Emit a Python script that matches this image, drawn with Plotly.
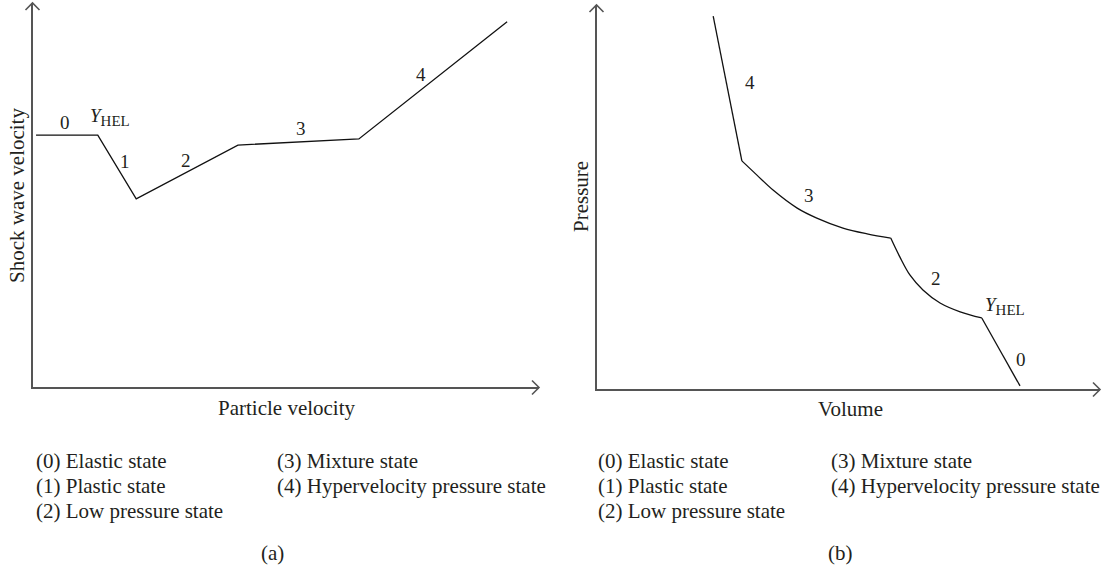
import plotly.graph_objects as go

# ---------------- data (arbitrary units) ----------------
# (a) shock wave velocity vs particle velocity (piecewise linear)
a_particle_velocity = [0.06, 1.28, 2.04, 4.05, 6.44, 9.37]
a_shock_velocity = [6.56, 6.56, 4.90, 6.30, 6.46, 9.51]
a_label_text = ["0", "1", "2", "3", "4"]
a_label_x = [0.63, 1.82, 3.02, 5.30, 7.67]
a_label_y = [6.88, 5.86, 5.89, 6.74, 8.15]
a_hel_x, a_hel_y = 1.52, 7.02

# (b) pressure vs volume, per state segment
b_vol_4 = [2.31, 2.88]
b_pres_4 = [9.71, 5.94]
b_vol_3 = [2.88, 3.18, 3.50, 3.98, 4.37, 4.89, 5.37, 5.84]
b_pres_3 = [5.94, 5.57, 5.18, 4.71, 4.45, 4.19, 4.04, 3.93]
b_vol_2 = [5.84, 6.02, 6.22, 6.48, 6.82, 7.22, 7.65]
b_pres_2 = [3.93, 3.44, 2.97, 2.58, 2.24, 2.01, 1.85]
b_vol_0 = [7.65, 8.41]
b_pres_0 = [1.85, 0.08]
b_label_text = ["4", "3", "2", "0"]
b_label_x = [3.04, 4.21, 6.74, 8.43]
b_label_y = [7.97, 5.05, 2.89, 0.76]
b_hel_x, b_hel_y = 8.11, 2.16

legend_col1 = ["(0) Elastic state", "(1) Plastic state", "(2) Low pressure state"]
legend_col2 = ["(3) Mixture state", "(4) Hypervelocity pressure state"]

# ---------------- layout geometry (pixels) ----------------
W, H = 1103, 571
LX0, LX1, LYB, LYT = 33, 539, 387, 3
RX0, RX1, RYB, RYT = 597, 1100, 389, 5

FONT = "Liberation Serif"
TXT = "#231f20"
AXC = "#555555"


def fx(px):
    return px / W


def fy(py):
    return 1 - py / H


fig = go.Figure()

line_style = dict(color="#111111", width=1.3)
fig.add_trace(go.Scatter(x=a_particle_velocity, y=a_shock_velocity, mode="lines",
                         line=line_style, xaxis="x", yaxis="y", hoverinfo="skip"))
for xs, ys, shp in [(b_vol_4, b_pres_4, "linear"), (b_vol_3, b_pres_3, "spline"),
                    (b_vol_2, b_pres_2, "spline"), (b_vol_0, b_pres_0, "linear")]:
    fig.add_trace(go.Scatter(x=xs, y=ys, mode="lines", line=dict(line_style, shape=shp),
                             xaxis="x2", yaxis="y2", hoverinfo="skip"))

axis_common = dict(range=[0, 10], showgrid=False, zeroline=False, showticklabels=False,
                   ticks="", showline=True, linecolor=AXC, linewidth=2, fixedrange=True)

fig.update_layout(
    width=W, height=H, margin=dict(l=0, r=0, t=0, b=0),
    paper_bgcolor="white", plot_bgcolor="white", showlegend=False,
    xaxis=dict(axis_common, domain=[fx(LX0), fx(LX1)], anchor="y"),
    yaxis=dict(axis_common, domain=[fy(LYB), fy(LYT)], anchor="x"),
    xaxis2=dict(axis_common, domain=[fx(RX0), fx(RX1)], anchor="y2"),
    yaxis2=dict(axis_common, domain=[fy(RYB), fy(RYT)], anchor="x2"),
)

# axis arrow heads (open chevrons)
shapes = []
for (xa, ya) in [(LX1, LYB), (RX1, RYB)]:
    shapes.append(dict(type="path", xref="paper", yref="paper", xsizemode="pixel",
                       ysizemode="pixel", xanchor=fx(xa), yanchor=fy(ya + 0.5),
                       path="M-7,7 L0,0 L-7,-7", line=dict(color=AXC, width=1.6)))
for (xa, ya) in [(LX0, LYT), (RX0, RYT)]:
    shapes.append(dict(type="path", xref="paper", yref="paper", xsizemode="pixel",
                       ysizemode="pixel", xanchor=fx(xa - 0.5), yanchor=fy(ya),
                       path="M-7,-7 L0,0 L7,-7", line=dict(color=AXC, width=1.6)))
fig.update_layout(shapes=shapes)

ann = []
lab_font = dict(family=FONT, size=19, color=TXT)
for t, x, y in zip(a_label_text, a_label_x, a_label_y):
    ann.append(dict(text=t, x=x, y=y, xref="x", yref="y", showarrow=False, font=lab_font))
for t, x, y in zip(b_label_text, b_label_x, b_label_y):
    ann.append(dict(text=t, x=x, y=y, xref="x2", yref="y2", showarrow=False, font=lab_font))
hel = "<i>Y</i><sub><span style='font-size:15px'>HEL</span></sub>"
ann.append(dict(text=hel, x=a_hel_x, y=a_hel_y, xref="x", yref="y", showarrow=False, font=lab_font))
ann.append(dict(text=hel, x=b_hel_x, y=b_hel_y, xref="x2", yref="y2", showarrow=False, font=lab_font))

big = dict(family=FONT, size=21, color=TXT)
# axis titles
ann.append(dict(text="Particle velocity", x=fx(287), y=fy(408), xref="paper", yref="paper",
                showarrow=False, font=big, xanchor="center", yanchor="middle"))
ann.append(dict(text="Volume", x=fx(850), y=fy(409), xref="paper", yref="paper",
                showarrow=False, font=big, xanchor="center", yanchor="middle"))
ann.append(dict(text="Shock wave velocity", x=fx(17), y=fy(196), xref="paper", yref="paper",
                showarrow=False, font=big, textangle=-90, xanchor="center", yanchor="middle"))
ann.append(dict(text="Pressure", x=fx(581), y=fy(197), xref="paper", yref="paper",
                showarrow=False, font=big, textangle=-90, xanchor="center", yanchor="middle"))

# state legends and panel tags
rows = [461, 486, 511]
for base, col2 in [(34, 275), (596, 829)]:
    for t, r in zip(legend_col1, rows):
        ann.append(dict(text=t, x=fx(base), y=fy(r), xref="paper", yref="paper",
                        showarrow=False, font=big, xanchor="left", yanchor="middle"))
    for t, r in zip(legend_col2, rows):
        ann.append(dict(text=t, x=fx(col2), y=fy(r), xref="paper", yref="paper",
                        showarrow=False, font=big, xanchor="left", yanchor="middle"))
ann.append(dict(text="(a)", x=fx(272), y=fy(553), xref="paper", yref="paper",
                showarrow=False, font=big, xanchor="center", yanchor="middle"))
ann.append(dict(text="(b)", x=fx(840), y=fy(553), xref="paper", yref="paper",
                showarrow=False, font=big, xanchor="center", yanchor="middle"))
fig.update_layout(annotations=ann)

fig.write_html("out.html", config={"displayModeBar": False},
               post_script="document.body.style.margin='0';document.body.style.overflow='hidden';")
